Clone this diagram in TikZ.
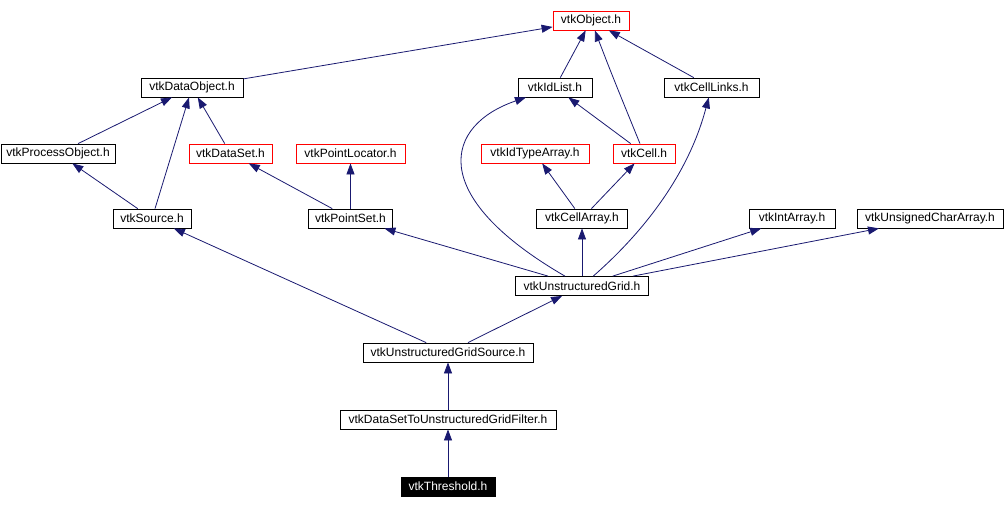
\documentclass[tikz,border=0pt]{standalone}
\usepackage{fontspec}
\setmainfont{Liberation Sans}
\usetikzlibrary{arrows.meta}
\definecolor{incInk}{HTML}{000000}
\definecolor{incEdge}{HTML}{191970}
\definecolor{incRed}{HTML}{FF0000}
\tikzset{
  every picture/.style={font=\fontsize{12}{14}\selectfont, text=incInk},
  inc box/.style={draw=incInk, line width=0.8pt, fill=white, inner sep=0pt,
    minimum height=19pt, anchor=center},
  inc red/.style={inc box, draw=incRed},
  inc root/.style={inc box, fill=black, text=white},
  inc edge/.style={-{Triangle[length=11pt,width=8pt]}, draw=incEdge,
    line width=0.8pt}
}

\begin{document}
\begin{tikzpicture}[x=1pt,y=-1pt]
  \useasboundingbox (0,0) rectangle (1008,509);
  \foreach \nm/\x/\y/\w/\lab in {dataobj/192/87.5/102/vtkDataObject.h,
      idlist/555/87.5/74/vtkIdList.h, celllinks/711.5/87.5/95/vtkCellLinks.h,
      procobj/58/153.5/114/vtkProcessObject.h, source/152/218.5/78/vtkSource.h,
      ptset/350.5/218.5/84/vtkPointSet.h, cellarr/582/218.5/91/vtkCellArray.h,
      intarr/792/218.5/86/vtkIntArray.h,
      ucharr/930/218.5/146/vtkUnsignedCharArray.h,
      ugrid/582/286/133/vtkUnstructuredGrid.h,
      ugsrc/448/352.5/170/vtkUnstructuredGridSource.h,
      filter/448/419.5/216/vtkDataSetToUnstructuredGridFilter.h}{
    \node[inc box, minimum width=\w pt] (\nm) at (\x,\y) {\lab};
  }
  \foreach \nm/\x/\y/\w/\lab in {obj/591/20.5/76/vtkObject.h,
      dataset/230.5/153.5/83/vtkDataSet.h, ptloc/350.5/153.5/109/vtkPointLocator.h,
      idtype/535/153.5/108/vtkIdTypeArray.h, cell/644/153.5/62/vtkCell.h}{
    \node[inc red, minimum width=\w pt] (\nm) at (\x,\y) {\lab};
  }
  \node[inc root, minimum width=94pt] (thresh) at (448,486.5) {vtkThreshold.h};

  \foreach \a/\b in {dataobj/obj, idlist/obj, celllinks/obj, procobj/dataobj,
      source/dataobj, dataset/dataobj, source/procobj, ptset/dataset,
      ptset/ptloc, cell/idlist, cellarr/idtype, cellarr/cell, ugrid/ptset,
      ugrid/cellarr, ugrid/intarr, ugrid/ucharr, ugsrc/source, ugsrc/ugrid,
      filter/ugsrc, thresh/filter}{
    \draw[inc edge] (\a) -- (\b);
  }
  \draw[inc edge] (cell) .. controls (612,75) .. (obj);
  \draw[inc edge] (ugrid) .. controls (425,195) and (445,125) .. (idlist);
  \draw[inc edge] (ugrid) .. controls (680,200) and (700,130) .. (celllinks);
\end{tikzpicture}
\end{document}
